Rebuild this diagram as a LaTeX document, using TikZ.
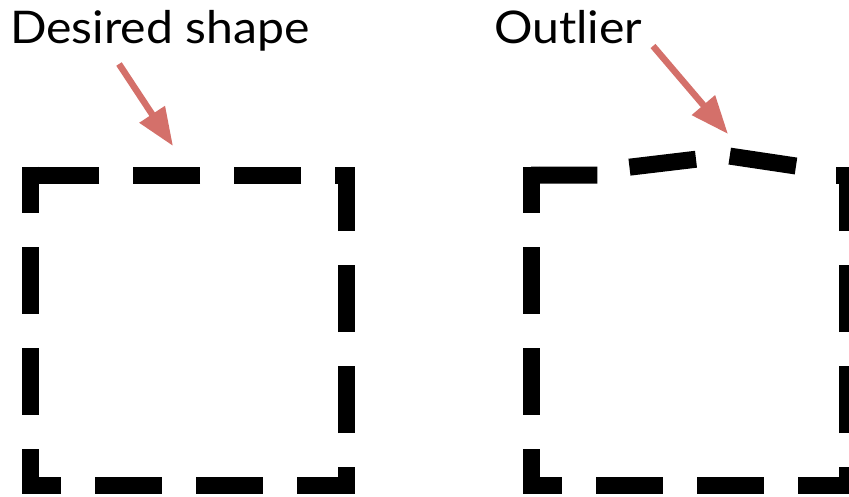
\documentclass[tikz,border=0pt]{standalone}
\usepackage{fontspec}
\setmainfont{Lato}
\newfontfamily\labelfont[FakeStretch=1.07]{Lato}
\usetikzlibrary{arrows.meta}
\definecolor{arrowred}{HTML}{D4706A}
\begin{document}
\begin{tikzpicture}[x=1pt,y=-1pt,
  shapeline/.style={line width=17pt, dash pattern=on 67pt off 34pt, dash phase=20.5pt, line join=miter},
  bumpline/.style={line width=17pt, dash pattern=on 67pt off 34pt on 67pt off 34pt on 120pt off 10pt, line join=miter},
  caption/.style={anchor=base west, inner sep=0pt, font=\labelfont\fontsize{45}{52}\selectfont},
  pointer/.style={draw=arrowred, line width=6.5pt, -{Triangle[length=38pt,width=29pt]}}]
\useasboundingbox (0,0) rectangle (849,496);
% labels
\node[caption] (t1) at (10,43.3) {Desired shape};
\node[caption] (t2) at (494,43.3) {Outlier};
% arrows
\coordinate (a1s) at (119,64);
\coordinate (a1e) at (173,146);
\coordinate (a2s) at (653,46);
\coordinate (a2e) at (728,134);
\draw[pointer] (a1s) -- (a1e);
\draw[pointer] (a2s) -- (a2e);
% desired shape
\draw[shapeline] (30,166.5) -- (30,485) -- (346,485) -- (346,175) -- (30,175);
% outlier shape
\draw[shapeline] (531,166.5) -- (531,485) -- (847,485) -- (847,175) -- (836,175);
\draw[bumpline] (796,166) -- (726.4,155.6) -- (615,168.9) -- (605,175) -- (531,175);
\end{tikzpicture}
\end{document}
